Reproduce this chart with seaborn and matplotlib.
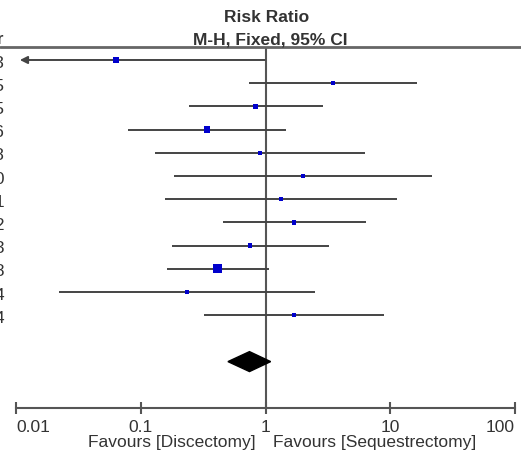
import numpy as np
import pandas as pd
import matplotlib
matplotlib.use("Agg")
import matplotlib.pyplot as plt
from matplotlib.lines import Line2D
from matplotlib.ticker import FixedLocator, NullLocator, FixedFormatter
import seaborn as sns

# Study-level risk ratios (row order top to bottom)
years = ["1993", "1995", "1995", "1996", "1998", "2000", "2001", "2002", "2003", "2008", "2014", "2014"]
rr = [0.063, 3.46, 0.836, 0.339, 0.906, 1.99, 1.33, 1.70, 0.748, 0.41, 0.236, 1.69]
ci_low = [0.001, 0.74, 0.243, 0.079, 0.131, 0.184, 0.157, 0.46, 0.177, 0.161, 0.022, 0.32]
ci_high = [1.04, 16.3, 2.88, 1.47, 6.3, 21.7, 11.3, 6.37, 3.2, 1.06, 2.5, 8.99]
weights = [10.0, 3.0, 5.5, 11.0, 3.0, 2.5, 3.0, 4.0, 4.0, 22.0, 3.0, 3.0]

# Pooled estimate (diamond)
total_rr, total_low, total_high = 0.744, 0.50, 1.10

tick_vals = [0.01, 0.1, 1, 10, 100]
tick_labels = ["0.01", "0.1", "1", "10", "100"]

W, H = 521, 457
TXT = "#333333"
LINE = "#555555"
FS = 12.5

sns.set_style("white")
plt.rcParams["font.family"] = ["Liberation Sans", "DejaVu Sans"]

df = pd.DataFrame({"row": np.arange(len(rr)), "rr": rr, "lo": ci_low, "hi": ci_high, "w": weights})

fig = plt.figure(figsize=(W / 100, H / 100), dpi=100)
ax = fig.add_axes([16 / W, 1 - 408 / H, (515 - 16) / W, 361 / H])
ax.set_xscale("log")
ax.set_xlim(0.01, 100)
ax.set_ylim(15.0, -0.56)

# confidence intervals
for r in df.itertuples():
    if r.lo < 0.01:
        ax.annotate("", xy=(0.0102, r.row), xytext=(r.hi, r.row),
                    arrowprops=dict(arrowstyle="-|>", color="#444444", lw=1.4, mutation_scale=11))
    else:
        ax.plot([r.lo, r.hi], [r.row, r.row], color="#444444", lw=1.4, solid_capstyle="butt")

ax.axvline(1, color=LINE, lw=1.5, zorder=1)

wmin, wmax = min(weights), max(weights)
sns.scatterplot(data=df, x="rr", y="row", size="w", sizes=(2.6 * wmin, 2.0 * wmax),
                marker="s", color="#0000cc", linewidth=0, legend=False, ax=ax, zorder=3)

# pooled diamond
d_row = 13
ax.fill([total_low, total_rr, total_high, total_rr],
        [d_row, d_row - 0.43, d_row, d_row + 0.43], color="black", zorder=3)

for s in ["left", "right", "top"]:
    ax.spines[s].set_visible(False)
ax.spines["bottom"].set_color(LINE)
ax.spines["bottom"].set_linewidth(1.5)
ax.xaxis.set_major_locator(FixedLocator(tick_vals))
ax.xaxis.set_major_formatter(FixedFormatter(tick_labels))
ax.xaxis.set_minor_locator(NullLocator())
ax.tick_params(axis="x", bottom=True, direction="inout", length=9, width=1.5, color=LINE,
               labelsize=FS, labelcolor=TXT, pad=4)
ax.set_yticks([])
ax.set_xlabel("")
ax.set_ylabel("")
ax.patch.set_alpha(0)

# end labels sit inside the axis span
fig.canvas.draw()
xt = ax.get_xticklabels()
xt[0].set_ha("left")
xt[-1].set_ha("right")

# header rule across the full width
fig.add_artist(Line2D([0, 1], [1 - 47 / H, 1 - 47 / H], color="#666666", lw=2))

fig.text(267 / W, 1 - 17 / H, "Risk Ratio", ha="center", va="center",
         fontsize=FS, fontweight="bold", color=TXT)
fig.text(270 / W, 1 - 40 / H, "M-H, Fixed, 95% CI", ha="center", va="center",
         fontsize=FS, fontweight="bold", color=TXT)

fig.text(256 / W, 1 - 443 / H, "Favours [Discectomy]", ha="right", va="center",
         fontsize=FS, color=TXT)
fig.text(273 / W, 1 - 443 / H, "Favours [Sequestrectomy]", ha="left", va="center",
         fontsize=FS, color=TXT)

# year column, cut off at the left edge as in the source image
fig.text(4.5 / W, 1 - 40 / H, "Year", ha="right", va="center", fontsize=FS, fontweight="bold", color=TXT)
for i, y in enumerate(years):
    ypx = 60 + 23.2 * i + 3
    fig.text(4.5 / W, 1 - ypx / H, y, ha="right", va="center", fontsize=FS, color=TXT)

fig.savefig("out.png", dpi=100)
